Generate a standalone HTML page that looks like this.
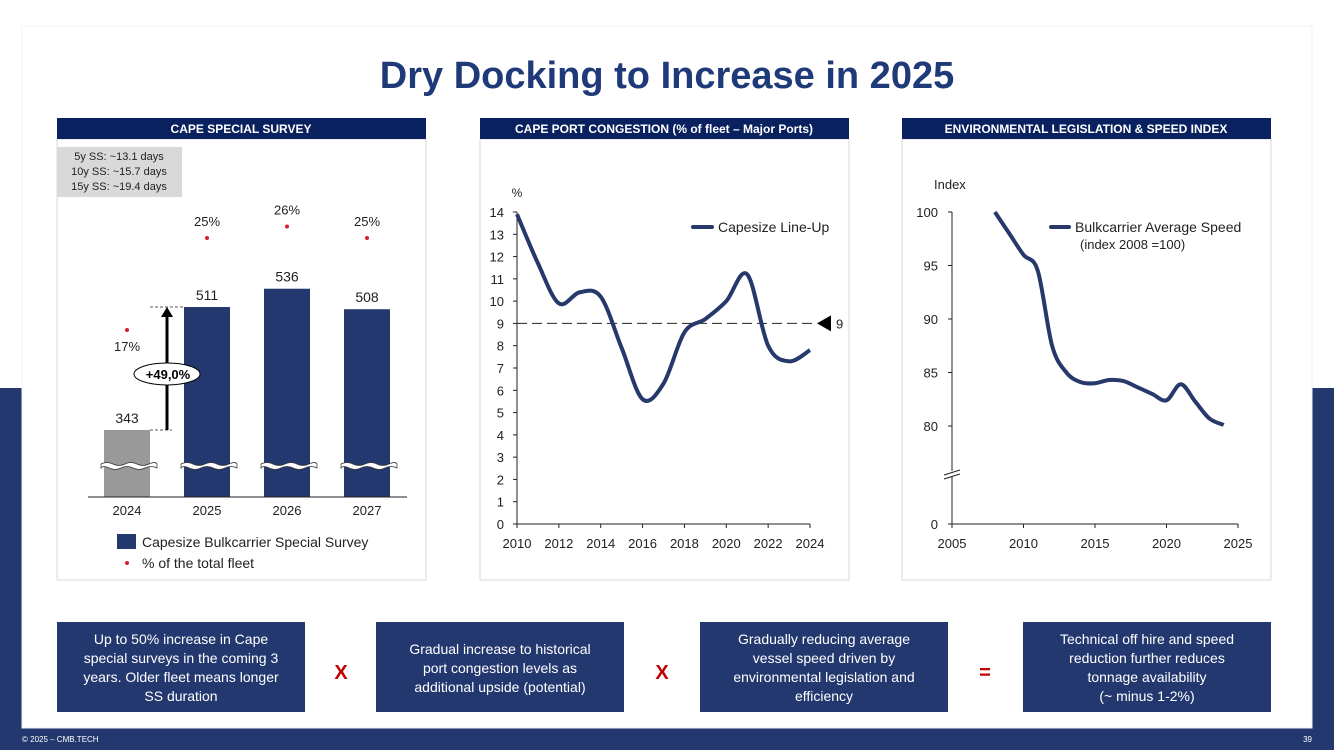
<!DOCTYPE html>
<html><head><meta charset="utf-8"><style>
html,body{margin:0;padding:0;width:1334px;height:750px;overflow:hidden;background:#fff;font-family:"Liberation Sans",sans-serif}
svg text{font-family:"Liberation Sans",sans-serif}
</style></head><body>
<svg id="s" width="1334" height="750" xmlns="http://www.w3.org/2000/svg">
<rect x="0" y="388" width="1334" height="362" fill="#243870"/>
<rect x="22" y="26" width="1290" height="702" fill="#fff" stroke="#f0f0f0"/>
<text x="667" y="88" text-anchor="middle" font-size="38" font-weight="bold" fill="#1f3a78">Dry Docking to Increase in 2025</text>
<text x="22" y="742" font-size="8" fill="#fff">© 2025 – CMB.TECH</text>
<text x="1312" y="742" font-size="8" fill="#fff" text-anchor="end">39</text>

<g>
<rect x="57" y="139" width="369" height="441" fill="#fff" stroke="#d9d9d9"/>
<rect x="57" y="118" width="369" height="21" fill="#0a2160"/>
<text x="241" y="133" text-anchor="middle" font-size="12" font-weight="bold" fill="#fff">CAPE SPECIAL SURVEY</text>
<rect x="57" y="147" width="125" height="50" fill="#d9d9d9"/>
<text x="119" y="160" text-anchor="middle" font-size="11" fill="#222">5y SS: ~13.1 days</text>
<text x="119" y="175" text-anchor="middle" font-size="11" fill="#222">10y SS: ~15.7 days</text>
<text x="119" y="190" text-anchor="middle" font-size="11" fill="#222">15y SS: ~19.4 days</text>
</g>
<g>
<rect x="480" y="139" width="369" height="441" fill="#fff" stroke="#d9d9d9"/>
<rect x="480" y="118" width="369" height="21" fill="#0a2160"/>
<text x="664" y="133" text-anchor="middle" font-size="12" font-weight="bold" fill="#fff">CAPE PORT CONGESTION (% of fleet – Major Ports)</text>
</g>
<g>
<rect x="902" y="139" width="369" height="441" fill="#fff" stroke="#d9d9d9"/>
<rect x="902" y="118" width="369" height="21" fill="#0a2160"/>
<text x="1086" y="133" text-anchor="middle" font-size="12" font-weight="bold" fill="#fff">ENVIRONMENTAL LEGISLATION &amp; SPEED INDEX</text>
</g>

<g id="c1"></g>
<g id="c2"></g>
<g id="c3"></g>

<g>
<rect x="57" y="622" width="248" height="90" fill="#243870"/>
<text text-anchor="middle" font-size="14" fill="#fff"><tspan x="181" y="644">Up to 50% increase in Cape</tspan><tspan x="181" y="663">special surveys in the coming 3</tspan><tspan x="181" y="682">years. Older fleet means longer</tspan><tspan x="181" y="701">SS duration</tspan></text>
</g>
<text x="341" y="679" text-anchor="middle" font-size="20" font-weight="bold" fill="#c00000">X</text>
<g>
<rect x="376" y="622" width="248" height="90" fill="#243870"/>
<text text-anchor="middle" font-size="14" fill="#fff"><tspan x="500" y="654">Gradual increase to historical</tspan><tspan x="500" y="673">port congestion levels as</tspan><tspan x="500" y="692">additional upside (potential)</tspan></text>
</g>
<text x="662" y="679" text-anchor="middle" font-size="20" font-weight="bold" fill="#c00000">X</text>
<g>
<rect x="700" y="622" width="248" height="90" fill="#243870"/>
<text text-anchor="middle" font-size="14" fill="#fff"><tspan x="824" y="644">Gradually reducing average</tspan><tspan x="824" y="663">vessel speed driven by</tspan><tspan x="824" y="682">environmental legislation and</tspan><tspan x="824" y="701">efficiency</tspan></text>
</g>
<text x="985" y="679" text-anchor="middle" font-size="20" font-weight="bold" fill="#c00000">=</text>
<g>
<rect x="1023" y="622" width="248" height="90" fill="#243870"/>
<text text-anchor="middle" font-size="14" fill="#fff"><tspan x="1147" y="644">Technical off hire and speed</tspan><tspan x="1147" y="663">reduction further reduces</tspan><tspan x="1147" y="682">tonnage availability</tspan><tspan x="1147" y="701">(~ minus 1-2%)</tspan></text>
</g>
</svg>
<script>
const ssYears=["2024","2025","2026","2027"];
const ssCounts=[343,511,536,508];
const ssPct=[17,25,26,25];
const congYears=[2010,2011,2012,2013,2014,2015,2016,2017,2018,2019,2020,2021,2022,2023,2024];
const congValues=[13.9,11.7,9.9,10.4,10.2,7.9,5.6,6.3,8.6,9.2,10.0,11.2,8.0,7.3,7.8];
const congTicks=[0,1,2,3,4,5,6,7,8,9,10,11,12,13,14];
const congXTicks=[2010,2012,2014,2016,2018,2020,2022,2024];
const congRef=9;
const speedYears=[2008,2009,2010,2011,2012,2013,2014,2015,2016,2017,2018,2019,2020,2021,2022,2023,2024];
const speedValues=[100,98,96,94.5,87.5,85,84.1,84,84.3,84.2,83.6,83,82.4,83.9,82.3,80.7,80.1];
const speedTicks=[80,85,90,95,100];
const speedXTicks=[2005,2010,2015,2020,2025];

const NS="http://www.w3.org/2000/svg";
function mk(parent,tag,attrs,txt){const e=document.createElementNS(NS,tag);for(const k in attrs)e.setAttribute(k,attrs[k]);if(txt!==undefined)e.textContent=txt;parent.appendChild(e);return e;}
function smooth(pts){let d="M"+pts[0][0]+","+pts[0][1];for(let i=0;i<pts.length-1;i++){const p0=pts[Math.max(0,i-1)],p1=pts[i],p2=pts[i+1],p3=pts[Math.min(pts.length-1,i+2)];const c1=[p1[0]+(p2[0]-p0[0])/6,p1[1]+(p2[1]-p0[1])/6],c2=[p2[0]-(p3[0]-p1[0])/6,p2[1]-(p3[1]-p1[1])/6];d+=" C"+c1[0]+","+c1[1]+" "+c2[0]+","+c2[1]+" "+p2[0]+","+p2[1];}return d;}
const NAVY="#243870";

(function(){
const g=document.getElementById('c1');
const base=497;
const yv=v=>Math.min(base,430-(v-343)*0.732);
const yp=p=>238-(p-25)*11.5;
const xc=i=>127+i*80;
ssCounts.forEach((v,i)=>{
 const b=mk(g,'rect',{x:xc(i)-23,y:yv(v),width:46,height:base-yv(v),fill:i==0?'#999999':NAVY});
 
 
 mk(g,'path',{d:`M${xc(i)-26},464 q6,-3 12,0 t12,0 t12,0 t12,0 t8,0 v4 q-6,-3 -12,0 t-12,0 t-12,0 t-12,0 t-8,0 z`,fill:'#fff',stroke:'#333','stroke-width':0.7});
 const l=mk(g,'text',{x:xc(i),y:yv(v)-7,'text-anchor':'middle','font-size':14,fill:'#222'},v);
 
 
 const d=mk(g,'circle',{cx:xc(i),cy:yp(ssPct[i]),r:2,fill:'#d0202f'});
 
 
 const pl=mk(g,'text',{x:xc(i),y:i==0?yp(ssPct[i])+21:yp(ssPct[i])-12,'text-anchor':'middle','font-size':13,fill:'#222'},ssPct[i]+'%');
 
 
 const xl=mk(g,'text',{x:xc(i),y:515,'text-anchor':'middle','font-size':13,fill:'#222'},ssYears[i]);
 
 
});
mk(g,'line',{x1:88,x2:407,y1:base,y2:base,stroke:'#222','stroke-width':1});
const yA=yv(ssCounts[1]),yB=yv(ssCounts[0]);
mk(g,'line',{x1:150,x2:184,y1:yA,y2:yA,stroke:'#222','stroke-dasharray':'3,2','stroke-width':0.8});
mk(g,'line',{x1:150,x2:172,y1:yB,y2:yB,stroke:'#222','stroke-dasharray':'3,2','stroke-width':0.8});
mk(g,'line',{x1:167,x2:167,y1:yB,y2:yA+10,stroke:'#000','stroke-width':3});
mk(g,'polygon',{points:`${161},${yA+10} ${173},${yA+10} 167,${yA}`,fill:'#000'});
const el=mk(g,'ellipse',{cx:167,cy:374,rx:33,ry:11,fill:'#fff',stroke:'#000','stroke-width':1});


mk(g,'text',{x:168,y:379,'text-anchor':'middle','font-size':13,'font-weight':'bold',fill:'#000'},'+49,0%');
mk(g,'rect',{x:117,y:534,width:19,height:15,fill:NAVY});
const lg=mk(g,'text',{x:142,y:547,'font-size':14,fill:'#222'},'Capesize Bulkcarrier Special Survey');


mk(g,'circle',{cx:127,cy:563,r:2,fill:'#d0202f'});
const lg2=mk(g,'text',{x:142,y:568,'font-size':14,fill:'#222'},'% of the total fleet');


})();

(function(){
const g=document.getElementById('c2');
const x=v=>517+(v-2010)*(293/14);
const y=v=>524-v*(312/14);
mk(g,'line',{x1:517,x2:517,y1:212,y2:524,stroke:'#222'});
mk(g,'line',{x1:517,x2:810,y1:524,y2:524,stroke:'#222'});
congTicks.forEach(t=>{mk(g,'line',{x1:513,x2:517,y1:y(t),y2:y(t),stroke:'#222'});
 const l=mk(g,'text',{x:504,y:y(t)+5,'text-anchor':'end','font-size':13,fill:'#222'},t);
 
 });
congXTicks.forEach(t=>{mk(g,'line',{x1:x(t),x2:x(t),y1:524,y2:528,stroke:'#222'});
 const l=mk(g,'text',{x:x(t),y:548,'text-anchor':'middle','font-size':13,fill:'#222'},t);
 
 });
mk(g,'text',{x:517,y:197,'text-anchor':'middle','font-size':12,fill:'#222'},'%');
const r=mk(g,'line',{x1:517,x2:815,y1:y(congRef),y2:y(congRef),stroke:'#222','stroke-dasharray':'10,5','stroke-width':1});


mk(g,'polygon',{points:`817,${y(congRef)} 831,${y(congRef)-8} 831,${y(congRef)+8}`,fill:'#000'});
mk(g,'text',{x:836,y:y(congRef)+5,'font-size':13,fill:'#222'},congRef);
const p=mk(g,'path',{d:smooth(congYears.map((t,i)=>[x(t),y(congValues[i])])),fill:'none',stroke:'#27396b','stroke-width':4,'stroke-linejoin':'round'});


mk(g,'line',{x1:693,x2:712,y1:227,y2:227,stroke:'#27396b','stroke-width':4,'stroke-linecap':'round'});
const lg=mk(g,'text',{x:718,y:232,'font-size':14,fill:'#222'},'Capesize Line-Up');


})();

(function(){
const g=document.getElementById('c3');
const x=v=>952+(v-2005)*(286/20);
const y=v=>v<=0?524:426-(v-80)*10.7;
mk(g,'line',{x1:952,x2:952,y1:212,y2:524,stroke:'#222'});
mk(g,'line',{x1:952,x2:1238,y1:524,y2:524,stroke:'#222'});
mk(g,'rect',{x:945,y:471,width:14,height:6,fill:'#fff'});
mk(g,'line',{x1:944,x2:960,y1:475,y2:470,stroke:'#222'});
mk(g,'line',{x1:944,x2:960,y1:479,y2:474,stroke:'#222'});
speedTicks.concat([0]).forEach(t=>{mk(g,'line',{x1:948,x2:952,y1:y(t),y2:y(t),stroke:'#222'});
 const l=mk(g,'text',{x:938,y:y(t)+5,'text-anchor':'end','font-size':13,fill:'#222'},t);
 
 });
speedXTicks.forEach(t=>{mk(g,'line',{x1:x(t),x2:x(t),y1:524,y2:528,stroke:'#222'});
 const l=mk(g,'text',{x:x(t),y:548,'text-anchor':'middle','font-size':13,fill:'#222'},t);
 
 });
mk(g,'text',{x:934,y:189,'font-size':13,fill:'#222'},'Index');
const p=mk(g,'path',{d:smooth(speedYears.map((t,i)=>[x(t),y(speedValues[i])])),fill:'none',stroke:'#27396b','stroke-width':4,'stroke-linejoin':'round'});


mk(g,'line',{x1:1051,x2:1069,y1:227,y2:227,stroke:'#27396b','stroke-width':4,'stroke-linecap':'round'});
const lg=mk(g,'text',{x:1075,y:232,'font-size':14,fill:'#222'},'Bulkcarrier Average Speed');


mk(g,'text',{x:1080,y:249,'font-size':13,fill:'#222'},'(index 2008 =100)');
})();
</script>
</body></html>
